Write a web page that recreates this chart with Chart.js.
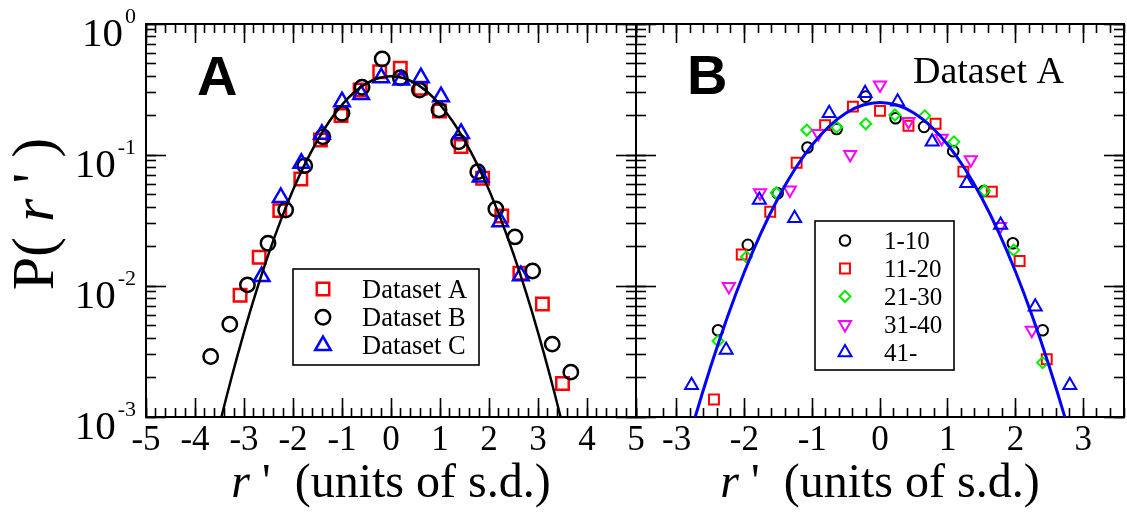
<!DOCTYPE html>
<html>
<head>
<meta charset="utf-8">
<script src="https://cdn.jsdelivr.net/npm/chart.js@4.4.1/dist/chart.umd.min.js"></script>
<style>
  html, body { margin: 0; padding: 0; background: #fff; }
  #wrap { position: relative; width: 1127px; height: 512px; overflow: hidden; }
  #panelA { position: absolute; left: 0; top: 0; }
  #panelB { position: absolute; left: 620px; top: 0; }
</style>
</head>
<body>
<div id="wrap">
  <canvas id="panelA" width="680" height="512"></canvas>
  <canvas id="panelB" width="520" height="512"></canvas>
</div>
<script>
// ---- axes ----
const yMin = 1e-3, yMax = 1;
const yMajor = [1, 0.1, 0.01, 0.001];
const yExponents = ['0', '-1', '-2', '-3'];
const xTicksA = [-5, -4, -3, -2, -1, 0, 1, 2, 3, 4, 5];
const xTicksB = [-3, -2, -1, 0, 1, 2, 3];

// ---- panel A ----
const legendA = ['Dataset A', 'Dataset B', 'Dataset C'];
const setAx = [-3.08, -2.69, -2.27, -1.84, -1.44, -1.02, -0.63, -0.23, 0.19, 0.60, 0.99, 1.43, 1.87, 2.26, 2.63, 3.09, 3.50];
const setAy = [0.0085, 0.0166, 0.0376, 0.0656, 0.130, 0.200, 0.313, 0.432, 0.459, 0.323, 0.217, 0.116, 0.0664, 0.0342, 0.0125, 0.0073, 0.0018];
const setBx = [-3.68, -3.29, -2.93, -2.51, -2.15, -1.76, -1.39, -1.00, -0.59, -0.18, 0.19, 0.58, 0.98, 1.38, 1.77, 2.14, 2.53, 2.89, 3.29, 3.67];
const setBy = [0.0029, 0.0051, 0.0102, 0.0212, 0.038, 0.083, 0.138, 0.208, 0.329, 0.541, 0.389, 0.313, 0.221, 0.126, 0.0746, 0.0387, 0.0237, 0.0130, 0.0036, 0.0022];
const setCx = [-2.64, -2.25, -1.83, -1.41, -1.00, -0.61, -0.20, 0.21, 0.61, 1.02, 1.43, 1.83, 2.23, 2.65];
const setCy = [0.0118, 0.0474, 0.0864, 0.144, 0.255, 0.290, 0.389, 0.374, 0.389, 0.279, 0.146, 0.068, 0.031, 0.012];
// fitted curve
const fitAx = [-3.75, -3.5, -3.25, -3.0, -2.75, -2.5, -2.25, -2.0, -1.75, -1.5, -1.25, -1.0, -0.75, -0.5, -0.25, 0,
               0.25, 0.5, 0.75, 1.0, 1.25, 1.5, 1.75, 2.0, 2.25, 2.5, 2.75, 3.0, 3.25, 3.5, 3.75];
const fitAy = [0.000353, 0.000873, 0.00203, 0.00443, 0.00909, 0.0175, 0.0317, 0.0540, 0.0863, 0.1295, 0.1826, 0.2420, 0.3011, 0.3521, 0.3867, 0.3989,
               0.3867, 0.3521, 0.3011, 0.2420, 0.1826, 0.1295, 0.0863, 0.0540, 0.0317, 0.0175, 0.00909, 0.00443, 0.00203, 0.000873, 0.000353];

// ---- panel B (Dataset A split in groups) ----
const legendB = ['1-10', '11-20', '21-30', '31-40', '41-'];
const g1x = [-2.39, -1.95, -1.51, -1.07, -0.64, -0.21, 0.23, 0.65, 1.08, 1.53, 1.96, 2.40];
const g1y = [0.0046, 0.0206, 0.051, 0.114, 0.158, 0.279, 0.191, 0.164, 0.107, 0.053, 0.0212, 0.0046];
const g2x = [-2.45, -2.04, -1.62, -1.23, -0.81, -0.40, 0.00, 0.42, 0.82, 1.23, 1.65, 2.06, 2.46];
const g2y = [0.00136, 0.0174, 0.0369, 0.0873, 0.169, 0.234, 0.217, 0.167, 0.173, 0.0746, 0.0525, 0.0155, 0.00276];
const g3x = [-2.39, -1.97, -1.53, -1.08, -0.64, -0.21, 0.22, 0.66, 1.09, 1.54, 1.97, 2.40];
const g3y = [0.0038, 0.0167, 0.0515, 0.155, 0.163, 0.173, 0.202, 0.199, 0.126, 0.0534, 0.0188, 0.0026];
const g4x = [-2.23, -1.77, -1.33, -0.91, -0.44, 0.00, 0.42, 0.91, 1.34, 1.77, 2.24];
const g4y = [0.0099, 0.0515, 0.054, 0.146, 0.101, 0.342, 0.180, 0.134, 0.092, 0.0284, 0.0046];
const g5x = [-2.78, -2.27, -1.78, -1.26, -0.75, -0.22, 0.26, 0.77, 1.28, 1.78, 2.29, 2.80];
const g5y = [0.00175, 0.00325, 0.0453, 0.0329, 0.208, 0.296, 0.255, 0.126, 0.0608, 0.0292, 0.00695, 0.00175];
const fitBx = [-3.0, -2.75, -2.5, -2.25, -2.0, -1.75, -1.5, -1.25, -1.0, -0.75, -0.5, -0.25, 0,
               0.25, 0.5, 0.75, 1.0, 1.25, 1.5, 1.75, 2.0, 2.25, 2.5, 2.75, 3.0];
const fitBy = [0.00031, 0.00091, 0.00241, 0.00583, 0.01285, 0.0258, 0.0472, 0.0788, 0.1198, 0.1658, 0.2092, 0.2406, 0.252,
               0.2406, 0.2092, 0.1658, 0.1198, 0.0788, 0.0472, 0.0258, 0.01285, 0.00583, 0.00241, 0.00091, 0.00031];

const serif = '"Liberation Serif", "Times New Roman", serif';
const sans = '"Liberation Sans", Arial, sans-serif';
Chart.defaults.font.family = serif;
Chart.defaults.color = '#000';

function pts(xs, ys) {
    return xs.map((x, i) => ({ x: x, y: ys[i] }));
}

function markers(label, xs, ys, color, style, radius, width, rotation, order) {
    return {
        label: label,
        data: pts(xs, ys),
        showLine: false,
        pointStyle: style,
        pointRadius: radius,
        pointHoverRadius: radius,
        pointBorderWidth: width,
        pointBorderColor: color,
        pointBackgroundColor: 'rgba(0,0,0,0)',
        pointRotation: rotation,
        borderColor: color,
        order: order
    };
}

function fitLine(xs, ys, color, width) {
    return {
        label: 'fit',
        data: pts(xs, ys),
        showLine: true,
        borderColor: color,
        borderWidth: width,
        pointRadius: 0,
        tension: 0.35,
        fill: false,
        order: 0
    };
}

// xmgrace-like frame: inward major and minor ticks on all four sides
function panelScales(xmin, xmax, xMajor, leftW) {
    const frame = { display: true, color: '#000', width: 2 };
    const bare = { display: false };
    const inward = len => ({ drawOnChartArea: false, drawTicks: true, tickLength: -len, tickWidth: 1.6, tickColor: '#000' });
    const majorX = s => { s.ticks = xMajor.map(v => ({ value: v })); };
    const majorY = s => { s.ticks = yMajor.map(v => ({ value: v })); };
    const minorY = s => {
        s.ticks = s.ticks.filter(t => {
            const m = t.value / Math.pow(10, Math.floor(Math.log10(t.value) + 1e-9));
            return Math.abs(m - Math.round(m)) < 1e-6;
        });
    };
    const xAxis = (position, weight, len, border, ticks, abt, afterFit) => ({
        type: 'linear', position: position, weight: weight, min: xmin, max: xmax, bounds: 'data',
        border: border, grid: inward(len), ticks: ticks, afterBuildTicks: abt, afterFit: afterFit
    });
    const yAxis = (position, weight, len, border, abt, afterFit) => ({
        type: 'logarithmic', position: position, weight: weight, min: yMin, max: yMax,
        border: border, grid: inward(len), ticks: { display: false }, afterBuildTicks: abt, afterFit: afterFit
    });
    const noH = s => { s.height = 0; };
    const noW = s => { s.width = 0; };
    return {
        x: xAxis('bottom', 1, 19, frame,
            { autoSkip: false, maxRotation: 0, padding: 22, color: '#000', font: { family: serif, size: 35 } },
            majorX, s => { s.height = 95; }),
        xMinor: xAxis('bottom', 0, 9, bare, { display: false, stepSize: 0.2 }, undefined, noH),
        xTop: xAxis('top', 1, 19, frame, { display: false }, majorX, noH),
        xTopMinor: xAxis('top', 0, 9, bare, { display: false, stepSize: 0.2 }, undefined, noH),
        y: yAxis('left', 1, 20, frame, majorY, s => { s.width = leftW; }),
        yMinor: yAxis('left', 0, 10, bare, minorY, noW),
        yRight: yAxis('right', 0, 20, frame, majorY, noW),
        yRightMinor: yAxis('right', 1, 10, bare, minorY, noW)
    };
}

// text made of runs with different fonts, centred on x
function drawRuns(ctx, runs, x, y) {
    let total = 0;
    runs.forEach(r => { ctx.font = r[1]; total += ctx.measureText(r[0]).width; });
    let cx = x - total / 2;
    ctx.textAlign = 'left';
    runs.forEach(r => {
        ctx.font = r[1];
        ctx.fillText(r[0], cx, y);
        cx += ctx.measureText(r[0]).width;
    });
}

function drawLegend(chart, names, box, firstRow, step, markX, textX, fontPx) {
    const ctx = chart.ctx;
    ctx.save();
    ctx.fillStyle = '#fff';
    ctx.fillRect(box[0], box[1], box[2] - box[0], box[3] - box[1]);
    ctx.strokeStyle = '#000';
    ctx.lineWidth = 1.6;
    ctx.strokeRect(box[0], box[1], box[2] - box[0], box[3] - box[1]);
    const sets = chart.data.datasets.filter(d => !d.showLine);
    sets.forEach((d, i) => {
        const y = firstRow + i * step;
        ctx.strokeStyle = d.pointBorderColor;
        ctx.fillStyle = 'rgba(0,0,0,0)';
        ctx.lineWidth = d.pointBorderWidth;
        Chart.helpers.drawPoint(ctx, {
            pointStyle: d.pointStyle, radius: d.pointRadius,
            rotation: d.pointRotation, borderWidth: d.pointBorderWidth
        }, markX, y);
        ctx.fillStyle = '#000';
        ctx.font = fontPx + 'px ' + serif;
        ctx.textAlign = 'left';
        ctx.textBaseline = 'alphabetic';
        ctx.fillText(names[i], textX, y + fontPx * 0.33);
    });
    ctx.restore();
}

const textA = {
    id: 'textA',
    afterDraw(chart) {
        const ctx = chart.ctx;
        const area = chart.chartArea;
        const ys = chart.scales.y;
        ctx.save();
        ctx.fillStyle = '#000';
        ctx.textBaseline = 'alphabetic';
        // decade labels 10^k
        yMajor.forEach((v, i) => {
            const py = ys.getPixelForValue(v);
            ctx.textAlign = 'right';
            ctx.font = '22px ' + serif;
            ctx.fillText(yExponents[i], area.left - 10, py - 1);
            const ew = ctx.measureText(yExponents[i]).width;
            ctx.font = '41px ' + serif;
            ctx.fillText('10', area.left - 12 - ew, py + 22);
        });
        // axis titles
        drawRuns(ctx, [['r', 'italic 48px ' + serif], [" '  (units of s.d.)", '48px ' + serif]],
            (area.left + area.right) / 2, 497);
        ctx.save();
        ctx.translate(53, 214);
        ctx.rotate(-Math.PI / 2);
        drawRuns(ctx, [['P( ', '60px ' + serif], ['r', 'italic 60px ' + serif], [" ' )", '60px ' + serif]], 0, 0);
        ctx.restore();
        ctx.font = 'bold 56px ' + sans;
        ctx.textAlign = 'left';
        ctx.fillText('A', 197, 95);
        ctx.restore();
        drawLegend(chart, legendA, [293, 269, 479, 365], 289, 28.3, 323, 362, 26.5);
    }
};

const textB = {
    id: 'textB',
    afterDraw(chart) {
        const ctx = chart.ctx;
        const area = chart.chartArea;
        ctx.save();
        ctx.fillStyle = '#000';
        ctx.textBaseline = 'alphabetic';
        drawRuns(ctx, [['r', 'italic 48px ' + serif], [" '  (units of s.d.)", '48px ' + serif]],
            (area.left + area.right) / 2, 497);
        ctx.font = 'bold 56px ' + sans;
        ctx.textAlign = 'left';
        ctx.fillText('B', 67, 94);
        ctx.font = '38px ' + serif;
        ctx.fillText('Dataset A', 293, 83);
        ctx.restore();
        drawLegend(chart, legendB, [195, 221, 334, 370], 240.5, 28, 225, 264, 25);
    }
};

const common = {
    responsive: false,
    animation: false,
    events: [],
    plugins: { legend: { display: false }, tooltip: { enabled: false } }
};

new Chart(document.getElementById('panelA'), {
    type: 'scatter',
    data: {
        datasets: [
            markers(legendA[0], setAx, setAy, '#ff0000', 'rect', 8.8, 2.5, 0, 3),
            markers(legendA[1], setBx, setBy, '#000000', 'circle', 7.2, 2.5, 0, 2),
            markers(legendA[2], setCx, setCy, '#0000ff', 'triangle', 9, 2.5, 0, 1),
            fitLine(fitAx, fitAy, '#000000', 2.5)
        ]
    },
    options: Object.assign({}, common, {
        // right padding wide enough for the "5" label, so the frame ends at 636
        layout: { padding: { left: 0, top: 24, right: 44, bottom: 0 } },
        scales: panelScales(-5, 5, xTicksA, 146)
    }),
    plugins: [textA]
});

new Chart(document.getElementById('panelB'), {
    type: 'scatter',
    data: {
        datasets: [
            markers(legendB[0], g1x, g1y, '#000000', 'circle', 5.3, 2, 0, 5),
            markers(legendB[1], g2x, g2y, '#ff0000', 'rect', 7, 2, 0, 4),
            markers(legendB[2], g3x, g3y, '#00ee00', 'rectRot', 5.5, 2, 0, 3),
            markers(legendB[3], g4x, g4y, '#ff00ff', 'triangle', 7, 2, 180, 2),
            markers(legendB[4], g5x, g5y, '#0000ff', 'triangle', 7.5, 2, 0, 1),
            fitLine(fitBx, fitBy, '#0000ff', 3)
        ]
    },
    options: Object.assign({}, common, {
        // canvas runs past the page edge; padding keeps the frame at 1124
        layout: { padding: { left: 0, top: 24, right: 16, bottom: 0 } },
        scales: panelScales(-3.6, 3.6, xTicksB, 16)
    }),
    plugins: [textB]
});
</script>
</body>
</html>
